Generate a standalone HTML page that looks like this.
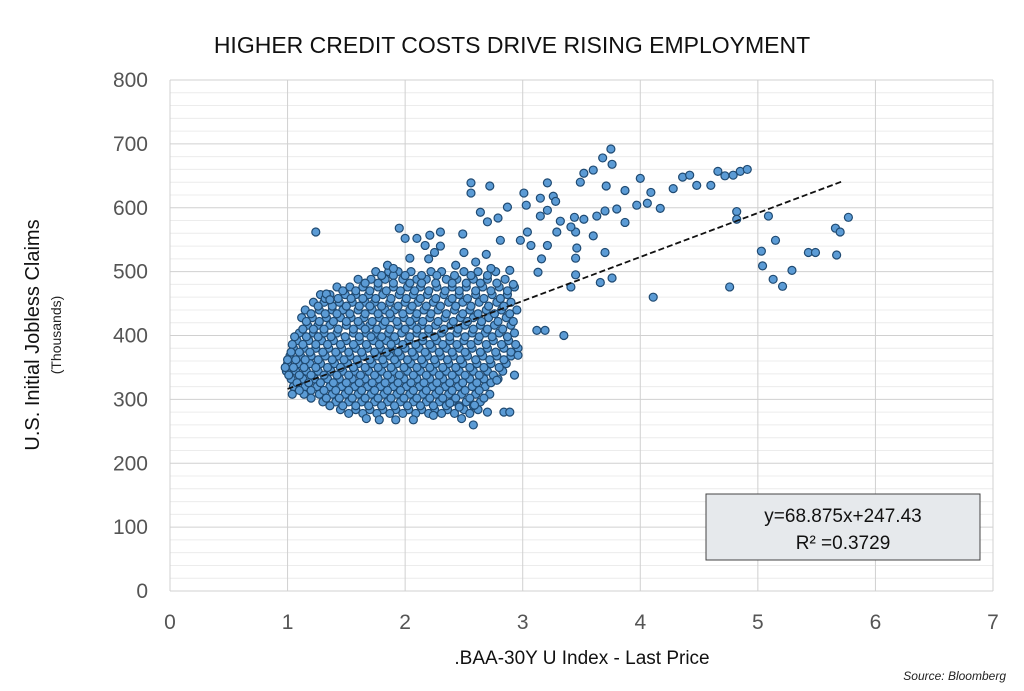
<!DOCTYPE html>
<html><head><meta charset="utf-8"><style>
body{margin:0;background:#fff;}
svg{display:block;font-family:"Liberation Sans",sans-serif;}
</style></head><body>
<svg id="chart" width="1024" height="691" viewBox="0 0 1024 691">
<text x="512" y="53" text-anchor="middle" font-size="23" fill="#111">HIGHER CREDIT COSTS DRIVE RISING EMPLOYMENT</text>
<g id="grid"></g>
<g id="yticks"></g>
<g id="xticks"></g>
<g id="points"></g>
<g id="trend"></g>
<text transform="translate(39,335) rotate(-90)" text-anchor="middle" font-size="20" fill="#111">U.S. Initial Jobless Claims</text>
<text transform="translate(61,335) rotate(-90)" text-anchor="middle" font-size="14" fill="#222">(Thousands)</text>
<text x="582" y="664" text-anchor="middle" font-size="19" fill="#111">.BAA-30Y U Index - Last Price</text>
<text x="1006" y="680" text-anchor="end" font-size="12" font-style="italic" fill="#222">Source: Bloomberg</text>
<g>
<rect x="706" y="494" width="274" height="66" fill="#e6e9ec" stroke="#444" stroke-width="1"></rect>
<text id="eq1" x="843" y="522" text-anchor="middle" font-size="19" fill="#111"></text>
<text id="eq2" x="843" y="549" text-anchor="middle" font-size="19" fill="#111"></text>
</g>
</svg>
<script>
const xTicks=[0,1,2,3,4,5,6,7];
const yTicks=[0,100,200,300,400,500,600,700,800];
const slope=[68.875];
const intercept=[247.43];
const rSquared=[0.3729];
const trendRange=[1.0,5.72];
const outliers=[[1.24,562],[2.56,623],[2.56,639],[2.72,634],[3.01,623],[3.03,604],[3.21,639],[3.26,618],[3.49,640],[3.52,654],[3.6,659],[3.68,678],[3.75,692],[3.76,668],[3.87,627],[3.71,634],[4.0,646],[4.09,624],[4.17,599],[4.28,630],[4.36,648],[4.42,651],[4.48,635],[4.6,635],[4.66,657],[4.72,650],[4.79,651],[4.85,657],[4.91,660],[4.82,594],[4.82,582],[5.09,587],[5.15,549],[5.03,532],[5.04,509],[5.13,488],[5.21,477],[5.29,502],[5.43,530],[5.49,530],[5.66,568],[5.7,562],[5.77,585],[5.67,526],[4.76,476],[4.11,460],[3.35,400],[3.63,587],[3.7,595],[3.8,598],[3.97,604],[4.06,607],[3.87,577],[3.7,530],[3.76,490],[3.66,483],[3.45,495],[3.41,476],[3.45,521],[3.46,537],[3.45,562],[3.6,556],[3.52,582],[3.44,585],[3.41,570],[3.32,579],[3.29,562],[3.21,541],[3.16,520],[3.13,499],[3.07,541],[3.04,562],[2.98,549],[3.15,587],[3.21,596],[3.28,610],[3.15,615],[2.87,601],[2.79,584],[2.64,593],[2.7,578],[2.49,559],[2.3,562],[2.21,557],[2.1,552],[2.0,552],[1.95,568],[2.04,521],[2.17,541],[2.43,510],[2.81,549],[2.89,502],[2.92,480],[2.73,505],[2.69,527],[3.19,408],[3.12,408],[2.96,369],[2.93,338],[2.78,330],[2.84,280],[2.89,280],[2.7,280],[2.59,291],[2.58,260],[2.48,270],[2.24,275],[2.07,268],[1.92,268],[1.78,268],[1.67,270],[2.46,288],[2.38,294],[1.33,465],[1.36,456],[1.85,510],[1.9,505],[2.2,520],[2.25,530],[2.5,530],[2.6,515],[2.3,540]];
const clusterY=[500,488,476,464,452,440,428,416,404,392,380,368,356,344,332,320,308,296,284];
const clusterX=[
[1.75,1.86,1.94,2.05,2.22,2.31,2.5,2.62,2.77],
[1.6,1.71,1.83,1.98,2.1,2.18,2.35,2.44,2.58,2.7,2.85],
[1.42,1.53,1.64,1.77,1.9,2.02,2.13,2.27,2.4,2.52,2.66,2.8,2.93],
[1.28,1.36,1.49,1.58,1.69,1.81,1.95,2.07,2.19,2.33,2.46,2.6,2.74,2.87],
[1.22,1.31,1.44,1.55,1.66,1.74,1.87,2.0,2.11,2.24,2.37,2.49,2.63,2.78,2.9],
[1.15,1.27,1.38,1.47,1.6,1.72,1.83,1.91,2.04,2.16,2.28,2.42,2.55,2.69,2.82,2.95],
[1.12,1.21,1.33,1.45,1.54,1.65,1.78,1.88,1.99,2.09,2.21,2.34,2.47,2.58,2.71,2.86],
[1.17,1.26,1.36,1.5,1.62,1.7,1.81,1.94,2.06,2.14,2.26,2.39,2.51,2.64,2.76,2.9],
[1.1,1.22,1.31,1.42,1.56,1.67,1.75,1.86,1.97,2.1,2.2,2.31,2.44,2.57,2.68,2.8,2.93],
[1.08,1.18,1.29,1.39,1.5,1.61,1.73,1.84,1.92,2.03,2.15,2.27,2.38,2.5,2.62,2.75,2.88],
[1.05,1.14,1.24,1.35,1.46,1.58,1.68,1.79,1.89,2.0,2.12,2.23,2.35,2.46,2.57,2.7,2.84,2.96],
[1.02,1.11,1.2,1.32,1.43,1.53,1.64,1.76,1.87,1.96,2.08,2.19,2.3,2.41,2.53,2.66,2.78,2.9],
[1.0,1.09,1.19,1.28,1.4,1.51,1.6,1.72,1.82,1.93,2.05,2.16,2.26,2.37,2.49,2.61,2.73,2.86],
[0.99,1.07,1.16,1.26,1.37,1.47,1.57,1.69,1.8,1.9,2.02,2.13,2.24,2.35,2.46,2.58,2.7,2.83],
[1.03,1.13,1.23,1.34,1.44,1.55,1.66,1.77,1.88,1.99,2.1,2.21,2.32,2.43,2.55,2.67,2.79],
[1.05,1.15,1.25,1.36,1.46,1.57,1.68,1.79,1.9,2.01,2.12,2.23,2.34,2.45,2.57,2.68],
[1.04,1.14,1.27,1.38,1.49,1.6,1.71,1.82,1.93,2.04,2.15,2.26,2.37,2.48,2.6,2.72],
[1.3,1.41,1.52,1.63,1.74,1.85,1.96,2.07,2.18,2.29,2.4,2.52,2.64],
[1.45,1.58,1.7,1.81,1.92,2.03,2.14,2.25,2.36,2.5,2.62]];
const clusterY2=[494,482,470,458,446,434,422,410,398,386,374,362,350,338,326,314,302,290,278];
const clusterX2=[
[1.8,1.9,2.0,2.14,2.27,2.42,2.56,2.7],
[1.66,1.77,1.9,2.04,2.14,2.26,2.4,2.52,2.64,2.78],
[1.47,1.58,1.7,1.84,1.96,2.08,2.2,2.34,2.46,2.6,2.73,2.87],
[1.32,1.43,1.54,1.64,1.75,1.88,2.01,2.13,2.26,2.4,2.53,2.67,2.81],
[1.26,1.38,1.5,1.61,1.7,1.8,1.94,2.06,2.18,2.3,2.43,2.56,2.71,2.84],
[1.2,1.32,1.42,1.53,1.66,1.77,1.87,1.98,2.1,2.22,2.35,2.49,2.62,2.76,2.89],
[1.16,1.27,1.39,1.5,1.6,1.72,1.83,1.93,2.04,2.15,2.28,2.41,2.53,2.65,2.79,2.92],
[1.13,1.22,1.31,1.43,1.56,1.66,1.76,1.87,2.0,2.1,2.2,2.33,2.45,2.58,2.7,2.83],
[1.06,1.16,1.26,1.37,1.49,1.61,1.71,1.8,1.91,2.04,2.15,2.25,2.38,2.51,2.63,2.74,2.87],
[1.04,1.13,1.24,1.34,1.45,1.56,1.67,1.78,1.88,1.98,2.09,2.21,2.32,2.44,2.56,2.69,2.82,2.94],
[1.03,1.1,1.19,1.3,1.41,1.52,1.63,1.74,1.84,1.94,2.06,2.17,2.29,2.4,2.51,2.64,2.77,2.9],
[1.0,1.07,1.15,1.26,1.38,1.48,1.59,1.7,1.81,1.91,2.02,2.14,2.25,2.36,2.47,2.6,2.72,2.84],
[0.98,1.05,1.14,1.24,1.34,1.45,1.56,1.66,1.77,1.88,1.99,2.1,2.21,2.32,2.43,2.55,2.67,2.8],
[1.01,1.1,1.2,1.31,1.42,1.52,1.62,1.74,1.85,1.95,2.07,2.18,2.29,2.4,2.51,2.63,2.75],
[1.08,1.18,1.28,1.39,1.5,1.61,1.72,1.83,1.94,2.05,2.16,2.27,2.38,2.49,2.61,2.73],
[1.1,1.2,1.31,1.41,1.52,1.63,1.74,1.85,1.96,2.07,2.18,2.29,2.4,2.51,2.63],
[1.2,1.33,1.44,1.55,1.66,1.77,1.88,1.99,2.1,2.21,2.32,2.43,2.55,2.67],
[1.36,1.47,1.58,1.69,1.8,1.91,2.02,2.13,2.24,2.35,2.46,2.58],
[1.52,1.64,1.76,1.87,1.98,2.09,2.2,2.31,2.42,2.55]];

const NS="http://www.w3.org/2000/svg";
const X0=170,X1=993,Y0=591,Y1=80,XMAX=7,YMAX=800;
function sx(v){return X0+(X1-X0)*v/XMAX;}
function sy(v){return Y0-(Y0-Y1)*v/YMAX;}
function mk(tag,attrs,parent){const e=document.createElementNS(NS,tag);for(const k in attrs)e.setAttribute(k,attrs[k]);parent.appendChild(e);return e;}
const grid=document.getElementById('grid');
for(let v=0;v<=YMAX;v+=20){
  const l=mk('line',{x1:X0,x2:X1,y1:sy(v),y2:sy(v),stroke:v%100===0?'#d0d0d0':'#ececec','stroke-width':1},grid);
  
  
}
xTicks.forEach(t=>{
  const l=mk('line',{x1:sx(t),x2:sx(t),y1:Y1,y2:Y0,stroke:'#d0d0d0','stroke-width':1},grid);
  
  
  const tx=mk('text',{x:sx(t),y:629,'text-anchor':'middle','font-size':21,fill:'#555'},document.getElementById('xticks'));
  tx.textContent=t;
  
  
});
yTicks.forEach(t=>{
  const tx=mk('text',{x:148,y:sy(t)+7,'text-anchor':'end','font-size':21,fill:'#555'},document.getElementById('yticks'));
  tx.textContent=t;
  
  
});
const pts=document.getElementById('points');
function dot(x,y){
  const c=mk('circle',{cx:sx(x),cy:sy(y),r:4,fill:'#5b9bd5',stroke:'#1f4a72','stroke-width':1.2},pts);
  
  
}
clusterY.forEach((y,i)=>clusterX[i].forEach(x=>dot(x,y)));
clusterY2.forEach((y,i)=>clusterX2[i].forEach(x=>dot(x,y)));
outliers.forEach(p=>dot(p[0],p[1]));
const tl=mk('line',{x1:sx(trendRange[0]),y1:sy(slope[0]*trendRange[0]+intercept[0]),x2:sx(trendRange[1]),y2:sy(slope[0]*trendRange[1]+intercept[0]),stroke:'#111','stroke-width':1.8,'stroke-dasharray':'6,3'},document.getElementById('trend'));


document.getElementById('eq1').textContent='y='+slope[0]+'x+'+intercept[0];
document.getElementById('eq2').textContent='R² =' + rSquared[0];
</script>
</body></html>
